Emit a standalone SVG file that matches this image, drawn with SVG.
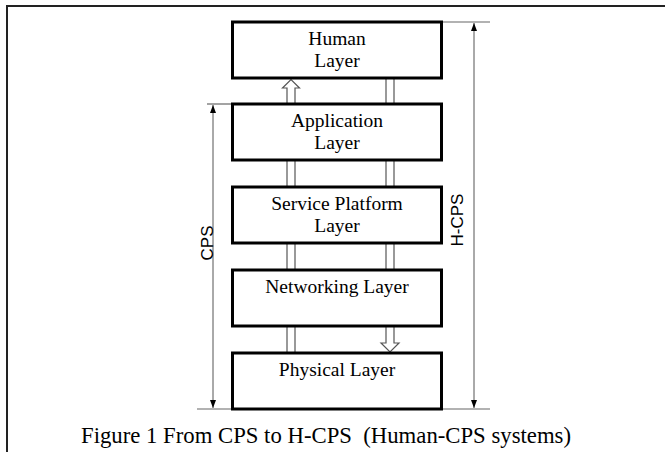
<svg xmlns="http://www.w3.org/2000/svg" width="665" height="452" viewBox="0 0 665 452">
  <defs>
    <style>
      .box { fill: #ffffff; stroke: #000000; stroke-width: 3; }
      .lbl { font-family: "Liberation Serif", "Times New Roman", serif; font-size: 19.5px; fill: #000; text-anchor: middle; }
      .dim { font-family: "Liberation Sans", Arial, sans-serif; font-size: 17px; fill: #000; text-anchor: middle; }
      .pipe { stroke: #555555; stroke-width: 1.2; fill: none; }
      .hollow { stroke: #555555; stroke-width: 1.2; fill: #ffffff; }
      .ext { stroke: #666666; stroke-width: 1.2; fill: none; }
      .dl { stroke: #555555; stroke-width: 1; fill: none; }
      .frame { stroke: #222222; stroke-width: 2; fill: none; }
      .cap { font-family: "Liberation Serif", "Times New Roman", serif; font-size: 23.5px; fill: #000; }
    </style>
    <marker id="ah" viewBox="0 0 8 8" refX="8" refY="4" markerWidth="8" markerHeight="8" markerUnits="userSpaceOnUse" orient="auto-start-reverse">
      <path d="M0,1 L8,4 L0,7 Z" fill="#000"/>
    </marker>
  </defs>

  <path class="frame" d="M7,452 L7,6 L665,6"/>

  <g id="connectors">
    <!-- Human - Application -->
    <path class="hollow" d="M287,104 L287,88 L282.5,88 L291,79.5 L299.5,88 L295,88 L295,104"/>
    <line class="pipe" x1="386" y1="78" x2="386" y2="104"/>
    <line class="pipe" x1="394" y1="78" x2="394" y2="104"/>
    <!-- Application - Service -->
    <line class="pipe" x1="287" y1="160" x2="287" y2="187"/>
    <line class="pipe" x1="295" y1="160" x2="295" y2="187"/>
    <line class="pipe" x1="386" y1="160" x2="386" y2="187"/>
    <line class="pipe" x1="394" y1="160" x2="394" y2="187"/>
    <!-- Service - Networking -->
    <line class="pipe" x1="287" y1="243" x2="287" y2="270"/>
    <line class="pipe" x1="295" y1="243" x2="295" y2="270"/>
    <line class="pipe" x1="386" y1="243" x2="386" y2="270"/>
    <line class="pipe" x1="394" y1="243" x2="394" y2="270"/>
    <!-- Networking - Physical -->
    <line class="pipe" x1="287" y1="326" x2="287" y2="353"/>
    <line class="pipe" x1="295" y1="326" x2="295" y2="353"/>
    <path class="hollow" d="M386,326 L386,343 L381,343 L390,352 L399,343 L394,343 L394,326"/>
  </g>

  <g id="dimensions">
    <line class="ext" x1="207" y1="104" x2="232" y2="104"/>
    <line class="ext" x1="442" y1="22" x2="490" y2="22"/>
    <line class="ext" x1="197" y1="409" x2="490" y2="409"/>
    <line class="dl" x1="213" y1="105" x2="213" y2="408" marker-start="url(#ah)" marker-end="url(#ah)"/>
    <line class="dl" x1="474" y1="23" x2="474" y2="408" marker-start="url(#ah)" marker-end="url(#ah)"/>
    <text class="dim" transform="translate(213,243) rotate(-90)">CPS</text>
    <text class="dim" transform="translate(463,220) rotate(-90)">H-CPS</text>
  </g>

  <g id="human">
    <rect class="box" x="232.5" y="22" width="209" height="56"/>
    <text class="lbl" x="337" y="45">Human</text>
    <text class="lbl" x="337" y="67">Layer</text>
  </g>
  <g id="application">
    <rect class="box" x="232.5" y="104" width="209" height="56"/>
    <text class="lbl" x="337" y="127">Application</text>
    <text class="lbl" x="337" y="149">Layer</text>
  </g>
  <g id="service">
    <rect class="box" x="232.5" y="187" width="209" height="56"/>
    <text class="lbl" x="337" y="210">Service Platform</text>
    <text class="lbl" x="337" y="232">Layer</text>
  </g>
  <g id="networking">
    <rect class="box" x="232.5" y="270" width="209" height="56"/>
    <text class="lbl" x="337" y="293">Networking Layer</text>
  </g>
  <g id="physical">
    <rect class="box" x="232.5" y="353" width="209" height="56"/>
    <text class="lbl" x="337" y="376">Physical Layer</text>
  </g>

  <text class="cap" x="81" y="443" textLength="490" lengthAdjust="spacingAndGlyphs" xml:space="preserve">Figure 1 From CPS to H-CPS  (Human-CPS systems)</text>
</svg>
